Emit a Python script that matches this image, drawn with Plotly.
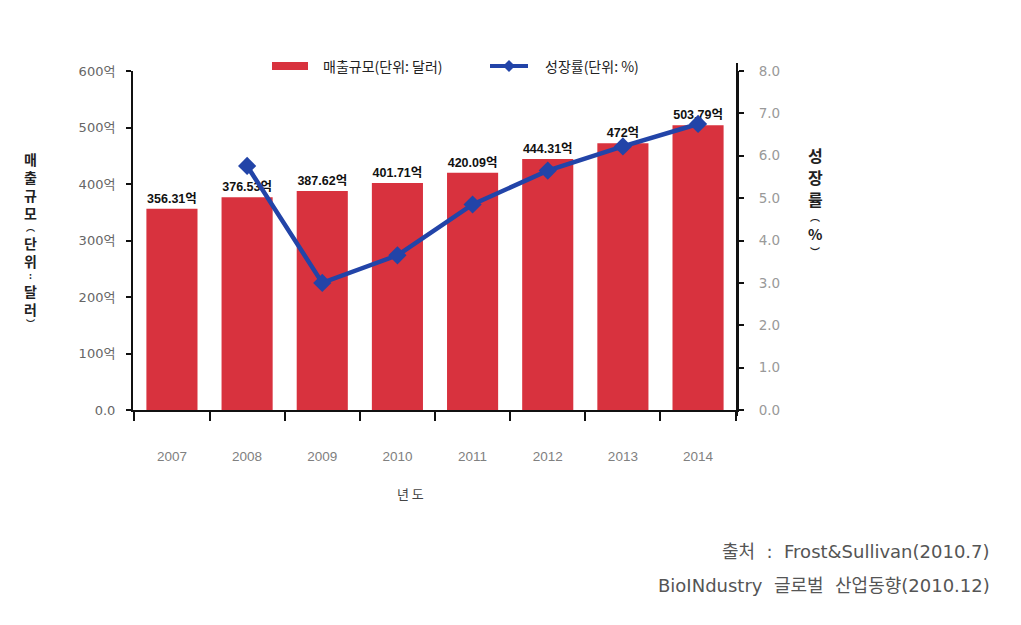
import plotly.graph_objects as go

years = ["2007", "2008", "2009", "2010", "2011", "2012", "2013", "2014"]
sales = [356.31, 376.53, 387.62, 401.71, 420.09, 444.31, 472.0, 503.79]
sales_labels = ["356.31억", "376.53억", "387.62억", "401.71억", "420.09억", "444.31억", "472억", "503.79억"]
growth = [None, 5.76, 3.0, 3.65, 4.85, 5.65, 6.22, 6.75]
left_ticks = [0, 100, 200, 300, 400, 500, 600]
left_ticktext = ["0.0", "100억", "200억", "300억", "400억", "500억", "600억"]
right_ticks = [0, 1, 2, 3, 4, 5, 6, 7, 8]
right_ticktext = ["0.0", "1.0", "2.0", "3.0", "4.0", "5.0", "6.0", "7.0", "8.0"]
xtick_text = ["2007", "2008", "2009", "2010", "2011", "2012", "2013", "2014"]
sales_name = "매출규모(단위: 달러)"
growth_name = "성장률(단위: %)"

KR = "Noto Sans CJK KR"
NUM = "Liberation Sans, Noto Sans CJK KR"
WIDE = "DejaVu Sans, Noto Sans CJK KR"
RED = "#d8323e"
BLUE = "#2244a8"

# page body has an 8px default margin; size the figure so the plot lands where the reference has it
W, H = 1013, 617
L, R, T, B = 125, 284, 63, 215
PX0, PX1, PY0, PY1 = 133, 737, 71, 410   # plot area in screen pixels


def px_x(x):
    return (x - PX0) / (PX1 - PX0)


def px_y(y):
    return (PY1 - y) / (PY1 - PY0)


fig = go.Figure()
fig.add_trace(go.Bar(
    x=years, y=sales, name=sales_name,
    marker=dict(color=RED, line=dict(width=0)),
    text=sales_labels, textposition="outside",
    textfont=dict(family=NUM, size=12.5, color="#111", weight="bold"),
    cliponaxis=False,
))
fig.add_trace(go.Scatter(
    x=years, y=growth, name=growth_name, yaxis="y2",
    mode="lines+markers",
    line=dict(color=BLUE, width=4.5),
    marker=dict(symbol="diamond", size=14, color=BLUE),
    connectgaps=False,
))

fig.update_layout(
    width=W, height=H,
    paper_bgcolor="white", plot_bgcolor="white",
    margin=dict(l=L, r=R, t=T, b=B),
    bargap=0.32,
    font=dict(family=KR, color="#666"),
    showlegend=False,
    xaxis=dict(
        tickvals=years, ticktext=xtick_text,
        showline=True, linecolor="#111", linewidth=2,
        ticks="outside", tickson="boundaries", ticklen=9, tickwidth=2, tickcolor="#111",
        showgrid=False,
        tickfont=dict(family=NUM, size=13.5, color="#808080"),
        ticklabelstandoff=33,
    ),
    yaxis=dict(
        range=[0, 600], tickvals=left_ticks, ticktext=left_ticktext,
        showline=True, linecolor="#111", linewidth=2,
        ticks="outside", ticklen=5, tickwidth=2, tickcolor="#111",
        showgrid=False, zeroline=False,
        tickfont=dict(family=WIDE, size=13, color="#666"),
        ticklabelstandoff=8,
    ),
    yaxis2=dict(
        range=[0, 8], tickvals=right_ticks, ticktext=right_ticktext,
        overlaying="y", side="right",
        showline=True, linecolor="#111", linewidth=2,
        ticks="outside", ticklen=5, tickwidth=2, tickcolor="#111",
        showgrid=False, zeroline=False,
        tickfont=dict(family=WIDE, size=13.5, color="#999"),
        ticklabelstandoff=12,
    ),
)

# right axis line overshoots the plot area slightly in the reference
fig.add_shape(type="line", xref="paper", yref="paper",
              x0=1, x1=1, y0=px_y(416), y1=px_y(63),
              line=dict(color="#111", width=2))

# ---- custom legend (wide swatches like the reference) ----
fig.add_shape(type="rect", xref="paper", yref="paper",
              x0=px_x(272), x1=px_x(308), y0=px_y(70), y1=px_y(62),
              fillcolor=RED, line=dict(width=0))
fig.add_shape(type="line", xref="paper", yref="paper",
              x0=px_x(490), x1=px_x(528), y0=px_y(66), y1=px_y(66),
              line=dict(color=BLUE, width=4))
cx, cy, d = 509, 66, 6
fig.add_shape(type="path", xref="paper", yref="paper",
              path=(f"M {px_x(cx - d)},{px_y(cy)} L {px_x(cx)},{px_y(cy - d)} "
                    f"L {px_x(cx + d)},{px_y(cy)} L {px_x(cx)},{px_y(cy + d)} Z"),
              fillcolor=BLUE, line=dict(width=0))
fig.add_annotation(text=sales_name, xref="paper", yref="paper", x=px_x(321), y=px_y(66),
                   xanchor="left", yanchor="middle", showarrow=False,
                   font=dict(family=KR, size=14, color="#222"))
fig.add_annotation(text=growth_name, xref="paper", yref="paper", x=px_x(543), y=px_y(66),
                   xanchor="left", yanchor="middle", showarrow=False,
                   font=dict(family=KR, size=14, color="#222"))

# ---- stacked vertical axis titles, one character per annotation ----
left_chars = [("매", 14, 18), ("출", 14, 18), ("규", 14, 18), ("모", 14, 18), ("︵", 9, 12),
              ("단", 14, 18), ("위", 14, 18), (":", 9, 12), ("달", 14, 18), ("러", 14, 18),
              ("︶", 9, 12)]
y = 147
for ch, sz, pitch in left_chars:
    fig.add_annotation(text=ch, xref="paper", yref="paper", x=px_x(30), y=px_y(y),
                       xanchor="center", yanchor="top", showarrow=False,
                       font=dict(family=KR, size=sz, color="#222", weight="bold"))
    y += pitch

right_chars = [("성", 16, 22), ("장", 16, 22), ("률", 16, 22), ("︵", 10, 14),
               ("%", 15, 21), ("︶", 10, 14)]
y = 141
for ch, sz, pitch in right_chars:
    fig.add_annotation(text=ch, xref="paper", yref="paper", x=px_x(815), y=px_y(y),
                       xanchor="center", yanchor="top", showarrow=False,
                       font=dict(family=KR, size=sz, color="#222", weight="bold"))
    y += pitch

fig.add_annotation(text="년 도", xref="paper", yref="paper", x=px_x(410), y=px_y(493),
                   xanchor="center", yanchor="middle", showarrow=False,
                   font=dict(family=KR, size=13, color="#444"))
fig.add_annotation(text="출처  :  Frost&Sullivan(2010.7)", xref="paper", yref="paper",
                   x=px_x(992), y=px_y(551), xanchor="right", yanchor="middle", showarrow=False,
                   font=dict(family=WIDE, size=18, color="#555"))
fig.add_annotation(text="BioINdustry  글로벌  산업동향(2010.12)", xref="paper", yref="paper",
                   x=px_x(992), y=px_y(585), xanchor="right", yanchor="middle", showarrow=False,
                   font=dict(family=WIDE, size=18, color="#555"))

fig.write_html("out.html")
